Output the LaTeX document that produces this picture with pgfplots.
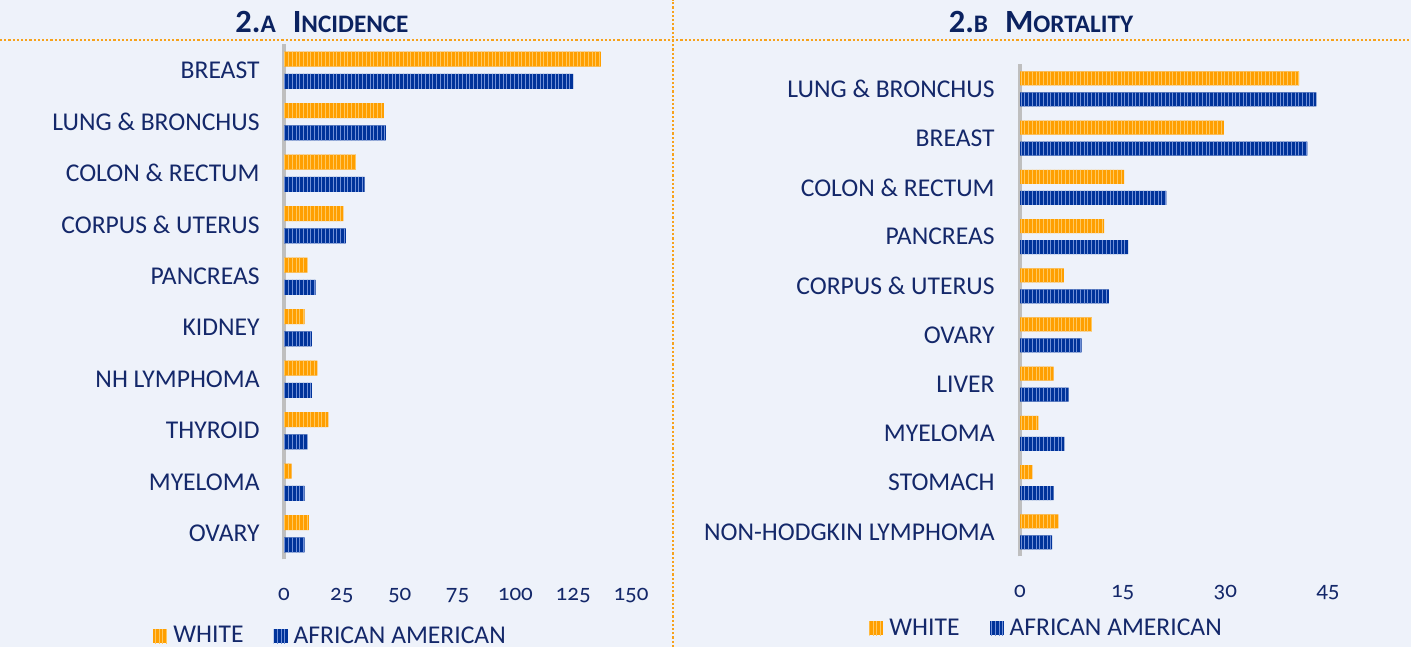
\documentclass[border=0pt]{standalone}
\usepackage{pgfplots}
\pgfplotsset{compat=1.18}
\usepackage{fontspec}
\setmainfont{Carlito}
\newfontfamily\onumfont{Carlito}[Numbers=OldStyle]
\usetikzlibrary{patterns.meta}
\definecolor{bg}{HTML}{EEF2FA}
\definecolor{org}{HTML}{FF9F00}
\definecolor{orgL}{HTML}{FFC860}
\definecolor{blu}{HTML}{00339A}
\definecolor{bluL}{HTML}{7090D8}
\definecolor{navy}{HTML}{14286A}
\definecolor{tnavy}{HTML}{0B2260}
\definecolor{axgray}{HTML}{BFBFBF}
\definecolor{dotorg}{HTML}{F7A21B}
\newcommand\smc[1]{{\fontsize{12.6pt}{13pt}\selectfont #1}}
\pgfplotsset{
  whitebar/.style={fill=org, draw=none, postaction={pattern={Lines[angle=90,distance=1.85pt,line width=0.5pt]}, pattern color=orgL}},
  aabar/.style={fill=blu, draw=none, postaction={pattern={Lines[angle=90,distance=1.85pt,line width=0.45pt]}, pattern color=bluL}},
  basestyle/.style={
    scale only axis, xbar, xmin=0,
    ymin=-0.5, ymax=9.5, ytick={0,...,9},
    axis x line*=bottom, axis y line*=left,
    axis line style={-},
    x axis line style={draw=none},
    y axis line style={draw=axgray, line width=2pt},
    major tick length=0pt, tick style={draw=none},
    yticklabel style={anchor=east, inner sep=0pt, font=\fontsize{12.8pt}{14pt}\selectfont, text=navy},
    xticklabel style={anchor=base, inner sep=0pt, yshift=-20.3pt, font=\onumfont\fontsize{11.5pt}{13pt}\selectfont, text=navy},
    legend columns=2,
    legend cell align=left,
    legend image code/.code={\fill[##1] (0pt,-3.5pt) rectangle (7pt,3.5pt);},
    legend style={draw=none, fill=none, inner sep=0pt, anchor=west,
      font=\fontsize{12.8pt}{14pt}\selectfont, text=navy,
      nodes={inner ysep=1.5pt, inner xsep=3pt},
      /tikz/every even column/.append style={column sep=12pt}},
  },
}
\begin{document}
\begin{tikzpicture}
\begin{scope}[x=0.5pt,y=0.5pt]
\fill[bg] (0,0) rectangle (1411,647);
\draw[dotorg, line width=1.1pt, dash pattern=on 1.1pt off 1pt] (0,607) -- (1411,607);
\draw[dotorg, line width=1.1pt, dash pattern=on 1.1pt off 1pt] (673,0) -- (673,647);
\node[tnavy, font=\bfseries\fontsize{16.2pt}{19pt}\selectfont] at (322,625) {2.\smc{A}\hspace{8.5pt}I\smc{NCIDENCE}};
\node[tnavy, font=\bfseries\fontsize{16.2pt}{19pt}\selectfont] at (1041,625) {2.\smc{B}\hspace{8.5pt}M\smc{ORTALITY}};
\end{scope}

\begin{axis}[basestyle,
  at={(142pt,43.75pt)}, anchor=south west,
  width=173.5pt, height=257.5pt,
  xmax=150, xtick={0,25,50,75,100,125,150},
  xticklabels={0,25,50,75,100,125,150},
  yticklabels={OVARY, MYELOMA, THYROID, NH LYMPHOMA, KIDNEY, PANCREAS, CORPUS \& UTERUS, COLON \& RECTUM, LUNG \& BRONCHUS, BREAST},
  yticklabel style={xshift=-12pt},
  bar width=7.5pt,
  legend style={at={(-0.3775,-0.1490)}},
]
\addplot[whitebar, bar shift=5.6pt] coordinates {
(137,9) (43.2,8) (31.1,7) (25.7,6) (10.1,5) (8.9,4) (14.4,3) (19.2,2) (3.3,1) (10.8,0)};
\addplot[aabar, bar shift=-5.6pt] coordinates {
(125,9) (44,8) (34.9,7) (26.7,6) (13.7,5) (12.0,4) (12.0,3) (10.1,2) (8.9,1) (8.9,0)};
\legend{WHITE, AFRICAN AMERICAN}
\end{axis}

\begin{axis}[basestyle,
  at={(510pt,45.3pt)}, anchor=south west,
  width=164.25pt, height=246pt,
  xmax=48, xtick={0,15,30,45},
  xticklabels={0,15,30,45},
  yticklabels={NON-HODGKIN LYMPHOMA, STOMACH, MYELOMA, LIVER, OVARY, CORPUS \& UTERUS, PANCREAS, COLON \& RECTUM, BREAST, LUNG \& BRONCHUS},
  yticklabel style={xshift=-12.5pt},
  bar width=7pt,
  legend style={at={(-0.4597,-0.1465)}},
]
\addplot[whitebar, bar shift=5.25pt] coordinates {
(40.8,9) (29.8,8) (15.2,7) (12.3,6) (6.4,5) (10.5,4) (4.9,3) (2.7,2) (1.8,1) (5.6,0)};
\addplot[aabar, bar shift=-5.25pt] coordinates {
(43.3,9) (42.0,8) (21.4,7) (15.8,6) (13.0,5) (9.0,4) (7.1,3) (6.5,2) (4.9,1) (4.7,0)};
\legend{WHITE, AFRICAN AMERICAN}
\end{axis}
\pgfresetboundingbox
\useasboundingbox (0,0) rectangle (705.5pt,323.5pt);
\end{tikzpicture}
\end{document}
